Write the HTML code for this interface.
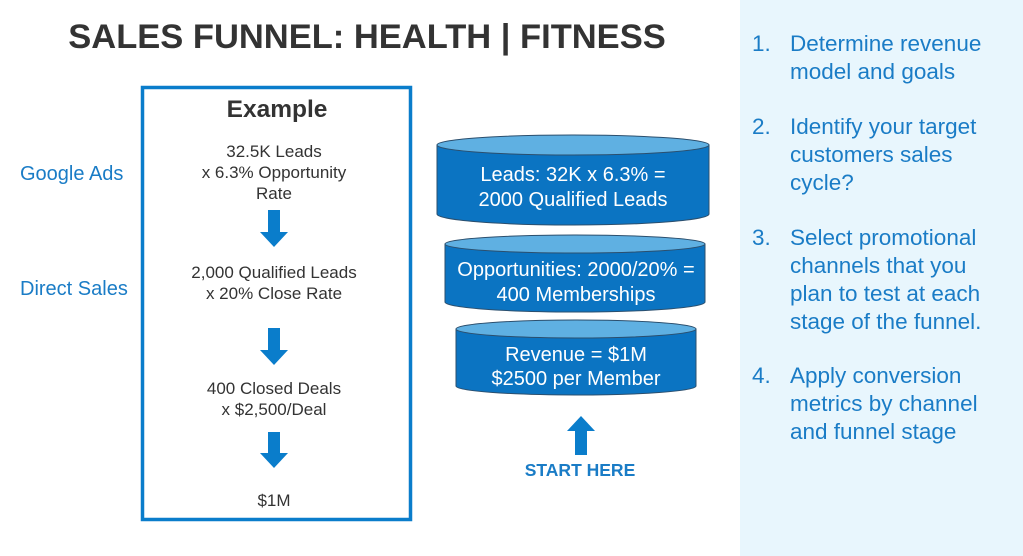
<!DOCTYPE html>
<html><head><style>body{margin:0;background:#fff}svg{display:block}</style></head><body>
<svg width="1023" height="556" viewBox="0 0 1023 556" xmlns="http://www.w3.org/2000/svg" font-family="Liberation Sans, Arial, sans-serif">
<rect x="740" y="0" width="283" height="556" fill="#e8f6fd"/>
<text x="367" y="48" text-anchor="middle" font-size="34.5" font-weight="bold" fill="#333">SALES FUNNEL: HEALTH | FITNESS</text>
<rect x="142.5" y="87.5" width="268" height="432" fill="#fff" stroke="#0a7dcb" stroke-width="3.5"/>
<text x="277" y="117" text-anchor="middle" font-size="24.5" font-weight="bold" fill="#333">Example</text>
<g font-size="17" fill="#333" text-anchor="middle">
<text x="274" y="157">32.5K Leads</text>
<text x="274" y="178">x 6.3% Opportunity</text>
<text x="274" y="199">Rate</text>
<text x="274" y="278">2,000 Qualified Leads</text>
<text x="274" y="299">x 20% Close Rate</text>
<text x="274" y="394">400 Closed Deals</text>
<text x="274" y="415">x $2,500/Deal</text>
<text x="274" y="506">$1M</text>
</g>
<g fill="#0a7dcb">
<path d="M268 210h12v22h8l-14 15l-14-15h8z"/>
<path d="M268 328h12v22h8l-14 15l-14-15h8z"/>
<path d="M268 432h12v21h8l-14 15l-14-15h8z"/>
<path d="M575 455h12v-24h8l-14-15l-14 15h8z"/>
</g>
<g font-size="20" fill="#1a7cc6">
<text x="20" y="180">Google Ads</text>
<text x="20" y="295">Direct Sales</text>
</g>
<g stroke="#2b4f6e" stroke-width="1">
<path d="M437 145v69a136 11 0 0 0 272 0v-69z" fill="#0b74c2"/>
<ellipse cx="573" cy="145" rx="136" ry="10" fill="#5fb0e2"/>
<path d="M445 244v58a130 10 0 0 0 260 0v-58z" fill="#0b74c2"/>
<ellipse cx="575" cy="244" rx="130" ry="9" fill="#5fb0e2"/>
<path d="M456 329v57a120 9 0 0 0 240 0v-57z" fill="#0b74c2"/>
<ellipse cx="576" cy="329" rx="120" ry="9" fill="#5fb0e2"/>
</g>
<g font-size="20" fill="#fff" text-anchor="middle">
<text x="573" y="181">Leads: 32K x 6.3% =</text>
<text x="573" y="206">2000 Qualified Leads</text>
<text x="576" y="276">Opportunities: 2000/20% =</text>
<text x="576" y="301">400 Memberships</text>
<text x="576" y="361">Revenue = $1M</text>
<text x="576" y="385">$2500 per Member</text>
</g>
<text x="580" y="476" text-anchor="middle" font-size="17.5" font-weight="bold" fill="#1a7cc6">START HERE</text>
<g font-size="22.5" fill="#1a7cc6">
<text x="752" y="51">1.</text><text x="790" y="51">Determine revenue</text><text x="790" y="79">model and goals</text>
<text x="752" y="134">2.</text><text x="790" y="134">Identify your target</text><text x="790" y="162">customers sales</text><text x="790" y="190">cycle?</text>
<text x="752" y="245">3.</text><text x="790" y="245">Select promotional</text><text x="790" y="273">channels that you</text><text x="790" y="301">plan to test at each</text><text x="790" y="329">stage of the funnel.</text>
<text x="752" y="383">4.</text><text x="790" y="383">Apply conversion</text><text x="790" y="411">metrics by channel</text><text x="790" y="439">and funnel stage</text>
</g>
</svg>
</body></html>
